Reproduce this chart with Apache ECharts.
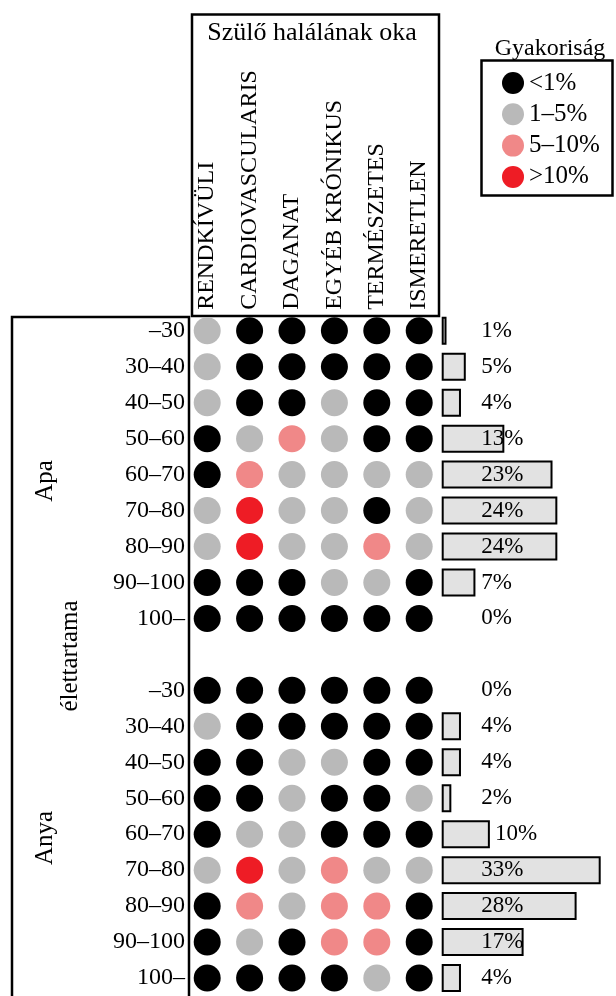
<!DOCTYPE html>
<html>
<head>
<meta charset="utf-8">
<script src="https://cdn.jsdelivr.net/npm/echarts@6/dist/echarts.min.js"></script>
<style>
html,body{margin:0;padding:0;background:#fff;}
#chart{width:616px;height:996px;}
</style>
</head>
<body>
<div id="chart"></div>
<script>
// ---- data ----
var causes = ['RENDKÍVÜLI', 'CARDIOVASCULARIS', 'DAGANAT', 'EGYÉB KRÓNIKUS', 'TERMÉSZETES', 'ISMERETLEN'];
var ageGroups = ['–30', '30–40', '40–50', '50–60', '60–70', '70–80', '80–90', '90–100', '100–'];
var freqClasses = ['<1%', '1–5%', '5–10%', '>10%'];
// frequency class index per age group (rows) and cause (columns)
var apaClasses = [
  [1, 0, 0, 0, 0, 0],
  [1, 0, 0, 0, 0, 0],
  [1, 0, 0, 1, 0, 0],
  [0, 1, 2, 1, 0, 0],
  [0, 2, 1, 1, 1, 1],
  [1, 3, 1, 1, 0, 1],
  [1, 3, 1, 1, 2, 1],
  [0, 0, 0, 1, 1, 0],
  [0, 0, 0, 0, 0, 0]
];
var anyaClasses = [
  [0, 0, 0, 0, 0, 0],
  [1, 0, 0, 0, 0, 0],
  [0, 0, 1, 1, 0, 0],
  [0, 0, 1, 0, 0, 1],
  [0, 1, 1, 0, 0, 0],
  [1, 3, 1, 2, 1, 1],
  [0, 2, 1, 2, 2, 0],
  [0, 1, 0, 2, 2, 0],
  [0, 0, 0, 0, 1, 0]
];
var apaPercent = [1, 5, 4, 13, 23, 24, 24, 7, 0];
var anyaPercent = [0, 4, 4, 2, 10, 33, 28, 17, 4];

// ---- styles ----
var FONT = '"Liberation Serif", "Times New Roman", serif';
var classColors = ['#000000', '#b9b9b9', '#f08888', '#ee1c25'];
var PX_PER_PCT = 159 / 33;
var LABEL_DIST = 39.5;

// ---- build ----
var rowLabels = ageGroups.concat(['']).concat(ageGroups);
var matrix = apaClasses.concat([null]).concat(anyaClasses);
var percents = apaPercent.concat(['-']).concat(anyaPercent);

var dotSeries = freqClasses.map(function (name, k) {
  var data = [];
  matrix.forEach(function (row, r) {
    if (!row) return;
    row.forEach(function (c, j) { if (c === k) data.push([j, r]); });
  });
  return {
    name: name, type: 'scatter', xAxisIndex: 0, yAxisIndex: 0,
    symbol: 'circle', symbolSize: 27, data: data,
    itemStyle: { color: classColors[k], opacity: 1 }, silent: true
  };
});

var barData = percents.map(function (v) {
  if (v === '-') return '-';
  if (v === 0) return { value: 0, itemStyle: { borderWidth: 0, color: 'rgba(0,0,0,0)' } };
  var end = v * PX_PER_PCT;
  // label just after the bar when the bar end would cut the label's first digit
  if (end > LABEL_DIST - 4 && end < LABEL_DIST + 10) {
    return { value: v, label: { distance: end + 5 } };
  }
  return v;
});

var gridTop = 312.8, gridHeight = 690.3;

var option = {
  animation: false,
  backgroundColor: '#ffffff',
  textStyle: { fontFamily: FONT },
  grid: [
    { left: 186, width: 254.4, top: gridTop, height: gridHeight },
    { left: 441.7, width: 159, top: gridTop, height: gridHeight }
  ],
  xAxis: [
    {
      gridIndex: 0, type: 'category', data: causes, position: 'top',
      axisLine: { show: false }, axisTick: { show: false }, splitLine: { show: false },
      axisLabel: { rotate: -90, margin: 3, interval: 0, fontSize: 24, color: '#000', fontFamily: FONT }
    },
    {
      gridIndex: 1, type: 'value', min: 0, max: 33, show: false
    }
  ],
  yAxis: [
    {
      gridIndex: 0, type: 'category', data: rowLabels, inverse: true,
      axisLine: { show: false }, axisTick: { show: false }, splitLine: { show: false },
      axisLabel: { margin: 1, interval: 0, fontSize: 24, color: '#000', fontFamily: FONT }
    },
    {
      gridIndex: 1, type: 'category', data: rowLabels, inverse: true, show: false
    }
  ],
  legend: {
    orient: 'vertical', left: 502, top: 70.5, padding: 0,
    itemWidth: 22, itemHeight: 22, itemGap: 6.3,
    icon: 'circle', selectedMode: false,
    data: freqClasses,
    textStyle: { fontSize: 25, lineHeight: 22, color: '#000', fontFamily: FONT }
  },
  series: dotSeries.concat([{
    type: 'bar', xAxisIndex: 1, yAxisIndex: 1, barWidth: 28,
    data: barData, silent: true,
    itemStyle: { color: '#e2e2e2', borderColor: '#000', borderWidth: 2 },
    label: {
      show: true, position: 'insideLeft', distance: LABEL_DIST,
      formatter: function (p) { return p.value + '%'; },
      fontSize: 23, color: '#000', fontFamily: FONT
    }
  }]),
  graphic: [
    { type: 'rect', shape: { x: 192, y: 14.5, width: 247, height: 301.5 },
      style: { fill: 'none', stroke: '#000', lineWidth: 2.5 }, silent: true },
    { type: 'rect', shape: { x: 12, y: 317, width: 177, height: 720 },
      style: { fill: 'none', stroke: '#000', lineWidth: 2.5 }, silent: true },
    { type: 'rect', shape: { x: 481.5, y: 60.5, width: 131, height: 135 },
      style: { fill: 'none', stroke: '#000', lineWidth: 2.5 }, silent: true },
    { type: 'text', x: 312, y: 33,
      style: { text: 'Szülő halálának oka', font: '26px ' + FONT, fill: '#000', align: 'center', verticalAlign: 'middle' } },
    { type: 'text', x: 550, y: 49,
      style: { text: 'Gyakoriság', font: '24px ' + FONT, fill: '#000', align: 'center', verticalAlign: 'middle' } },
    { type: 'text', x: 45, y: 481, rotation: Math.PI / 2,
      style: { text: 'Apa', font: '25px ' + FONT, fill: '#000', align: 'center', verticalAlign: 'middle' } },
    { type: 'text', x: 70, y: 656, rotation: Math.PI / 2,
      style: { text: 'élettartama', font: '25px ' + FONT, fill: '#000', align: 'center', verticalAlign: 'middle' } },
    { type: 'text', x: 45, y: 838, rotation: Math.PI / 2,
      style: { text: 'Anya', font: '25px ' + FONT, fill: '#000', align: 'center', verticalAlign: 'middle' } }
  ]
};

var chart = echarts.init(document.getElementById('chart'), null, { renderer: 'canvas' });
chart.setOption(option);
</script>
</body>
</html>
